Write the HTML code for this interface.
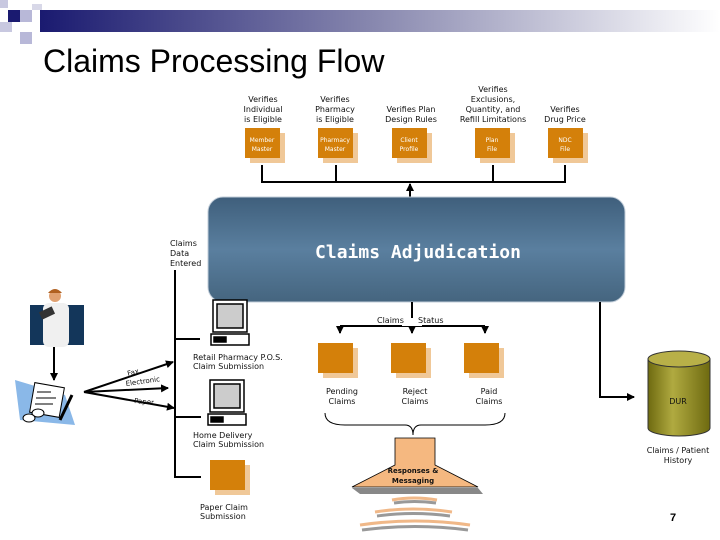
<!DOCTYPE html>
<html><head><meta charset="utf-8"><style>
body{margin:0;width:720px;height:540px;background:#fff;overflow:hidden;font-family:"Liberation Sans",sans-serif}
svg{display:block}
.s{font-family:"DejaVu Sans","Liberation Sans",sans-serif;font-size:8px;fill:#111}
.w{font-family:"DejaVu Sans","Liberation Sans",sans-serif;font-size:6px;fill:#fff}
</style></head><body>
<svg width="720" height="540" viewBox="0 0 720 540">
<defs>
<linearGradient id="hb" x1="0" x2="1"><stop offset="0" stop-color="#1a1a70"/><stop offset="0.5" stop-color="#8a8ab0"/><stop offset="1" stop-color="#fff"/></linearGradient>
<linearGradient id="adj" x1="0" y1="0" x2="0" y2="1"><stop offset="0" stop-color="#3f5f7c"/><stop offset="0.5" stop-color="#5a7f9f"/><stop offset="1" stop-color="#45657f"/></linearGradient>
<linearGradient id="cyl" x1="0" x2="1"><stop offset="0" stop-color="#6e6a10"/><stop offset="0.4" stop-color="#b0aa40"/><stop offset="1" stop-color="#6e6a10"/></linearGradient>
<marker id="a" markerWidth="8" markerHeight="8" refX="7" refY="4" orient="auto" markerUnits="userSpaceOnUse"><path d="M0,0L8,4L0,8z" fill="#000"/></marker>
<g id="file"><rect x="5" y="5" width="35" height="30" fill="#f0c898"/><rect x="0" y="0" width="35" height="30" fill="#d4800a"/></g>
</defs>
<rect x="40" y="10" width="680" height="22" fill="url(#hb)"/>
<rect x="0" y="0" width="8" height="8" fill="#c8c8e0"/>
<rect x="8" y="10" width="12" height="12" fill="#1a1a70"/>
<rect x="20" y="10" width="12" height="12" fill="#b8b8d8"/>
<rect x="0" y="22" width="12" height="10" fill="#c8c8e0"/>
<rect x="20" y="32" width="12" height="12" fill="#b8b8d8"/>
<rect x="32" y="4" width="10" height="6" fill="#d8d8e8"/>
<text x="43" y="72" font-size="32" fill="#000">Claims Processing Flow</text>
<g class="s" text-anchor="middle">
<text x="263" y="102">Verifies</text><text x="263" y="112">Individual</text><text x="263" y="122">is Eligible</text>
<text x="335" y="102">Verifies</text><text x="335" y="112">Pharmacy</text><text x="335" y="122">is Eligible</text>
<text x="411" y="112">Verifies Plan</text><text x="411" y="122">Design Rules</text>
<text x="493" y="92">Verifies</text><text x="493" y="102">Exclusions,</text><text x="493" y="112">Quantity, and</text><text x="493" y="122">Refill Limitations</text>
<text x="565" y="112">Verifies</text><text x="565" y="122">Drug Price</text>
</g>
<use href="#file" x="245" y="128"/><use href="#file" x="318" y="128"/><use href="#file" x="392" y="128"/><use href="#file" x="475" y="128"/><use href="#file" x="548" y="128"/>
<g class="w" text-anchor="middle">
<text x="262" y="142">Member</text><text x="262" y="151">Master</text>
<text x="335" y="142">Pharmacy</text><text x="335" y="151">Master</text>
<text x="409" y="142">Client</text><text x="409" y="151">Profile</text>
<text x="492" y="142">Plan</text><text x="492" y="151">File</text>
<text x="565" y="142">NDC</text><text x="565" y="151">File</text>
</g>
<g stroke="#000" stroke-width="2" fill="none">
<path d="M262,165V182H565V165M336,165V182M493,165V182"/>
<path d="M410,198V184" marker-end="url(#a)"/>
</g>
<rect x="208" y="197" width="417" height="105" rx="15" fill="url(#adj)" stroke="#c0ccd8" stroke-width="1"/>
<text x="418" y="258" text-anchor="middle" font-family="DejaVu Sans Mono,Liberation Mono,monospace" font-weight="bold" font-size="18" fill="#fff">Claims Adjudication</text>
<g class="s"><text x="170" y="246">Claims</text><text x="170" y="256">Data</text><text x="170" y="266">Entered</text></g>
<g stroke="#000" stroke-width="2" fill="none">
<path d="M175,270V477H201M175,339H200M175,417H201"/>
<path d="M54,347V380" marker-end="url(#a)"/>
<path d="M84,392L173,362" marker-end="url(#a)"/>
<path d="M84,392L168,388" marker-end="url(#a)"/>
<path d="M84,392L174,408" marker-end="url(#a)"/>
</g>
<g font-family="DejaVu Sans,sans-serif" font-size="7" fill="#111">
<text x="128" y="376" transform="rotate(-15 128 376)">Fax</text>
<text x="126" y="386" transform="rotate(-8 126 386)">Electronic</text>
<text x="134" y="403" transform="rotate(5 134 403)">Paper</text>
</g>
<rect x="30" y="305" width="54" height="40" fill="#13365a"/>
<rect x="43" y="303" width="26" height="44" rx="6" fill="#f0f0f0"/>
<circle cx="55" cy="296" r="6" fill="#e0a070"/>
<path d="M48,293q7,-8 14,0" fill="#b06020"/>
<rect x="40" y="309" width="14" height="8" fill="#333" transform="rotate(-25 47 313)"/>
<path d="M15,380L65,395L75,425L20,420z" fill="#8ab8e8"/>
<rect x="32" y="385" width="30" height="30" fill="#fff" stroke="#000" transform="rotate(10 47 400)"/>
<path d="M37,392h14M36,398h20M35,404h18" stroke="#000"/>
<ellipse cx="38" cy="413" rx="6" ry="4" fill="#fff" stroke="#000"/><ellipse cx="29" cy="418" rx="6" ry="4" fill="#fff" stroke="#000"/>
<path d="M72,395L60,420" stroke="#000" stroke-width="3"/>
<g id="pc" stroke="#000" stroke-width="1.5">
<rect x="213" y="300" width="34" height="32" fill="#fff"/><rect x="217" y="304" width="26" height="24" fill="#ccc"/>
<rect x="211" y="334" width="38" height="11" fill="#fff"/><rect x="214" y="337" width="12" height="5" fill="#000"/>
</g>
<use href="#pc" x="-3" y="80"/>
<g class="s">
<text x="193" y="360">Retail Pharmacy P.O.S.</text><text x="193" y="369">Claim Submission</text>
<text x="193" y="438">Home Delivery</text><text x="193" y="447">Claim Submission</text>
<text x="200" y="510">Paper Claim</text><text x="200" y="519">Submission</text>
</g>
<use href="#file" x="210" y="460"/>
<g stroke="#000" stroke-width="2" fill="none">
<path d="M412,302V333" marker-end="url(#a)"/>
<path d="M340,326H485"/>
<path d="M340,326V333" marker-end="url(#a)"/>
<path d="M485,326V333" marker-end="url(#a)"/>
<path d="M600,302V397H634" marker-end="url(#a)"/>
</g>
<rect x="402" y="318" width="20" height="8" fill="#fff"/>
<g class="s"><text x="377" y="323">Claims</text><text x="418" y="323">Status</text></g>
<use href="#file" x="318" y="343"/><use href="#file" x="391" y="343"/><use href="#file" x="464" y="343"/>
<g class="s" text-anchor="middle">
<text x="342" y="394">Pending</text><text x="342" y="404">Claims</text>
<text x="415" y="394">Reject</text><text x="415" y="404">Claims</text>
<text x="489" y="394">Paid</text><text x="489" y="404">Claims</text>
</g>
<path d="M325,413q0,12 20,12H405q8,0 8,10q0,-10 8,-10H485q20,0 20,-12" stroke="#000" fill="none"/>
<path d="M395,438h40v27l43,22H352l43,-22z" fill="#f5b880" stroke="#000" stroke-width="0.8"/>
<path d="M352,488H478l5,6H360z" fill="#888"/>
<g font-family="DejaVu Sans,sans-serif" font-size="7" font-weight="bold" fill="#111" text-anchor="middle"><text x="413" y="473">Responses &amp;</text><text x="413" y="483">Messaging</text></g>
<g fill="none" stroke-width="3">
<path d="M392,500q22,-4 45,0" stroke="#f0b888"/><path d="M394,503q20,-3 42,0" stroke="#999"/>
<path d="M375,512q38,-6 77,0" stroke="#f0b888"/><path d="M377,516q36,-5 73,0" stroke="#999"/>
<path d="M360,525q55,-8 110,0" stroke="#f0b888"/><path d="M362,530q53,-7 106,0" stroke="#999"/>
</g>
<path d="M648,359V428a31,8 0 0 0 62,0V359z" fill="url(#cyl)" stroke="#333"/>
<ellipse cx="679" cy="359" rx="31" ry="8" fill="#b8b048" stroke="#333"/>
<text x="678" y="404" class="s" text-anchor="middle">DUR</text>
<g class="s" text-anchor="middle"><text x="678" y="453">Claims / Patient</text><text x="678" y="463">History</text></g>
<text x="673" y="521" font-weight="bold" font-size="11" text-anchor="middle">7</text>
</svg>
</body></html>
